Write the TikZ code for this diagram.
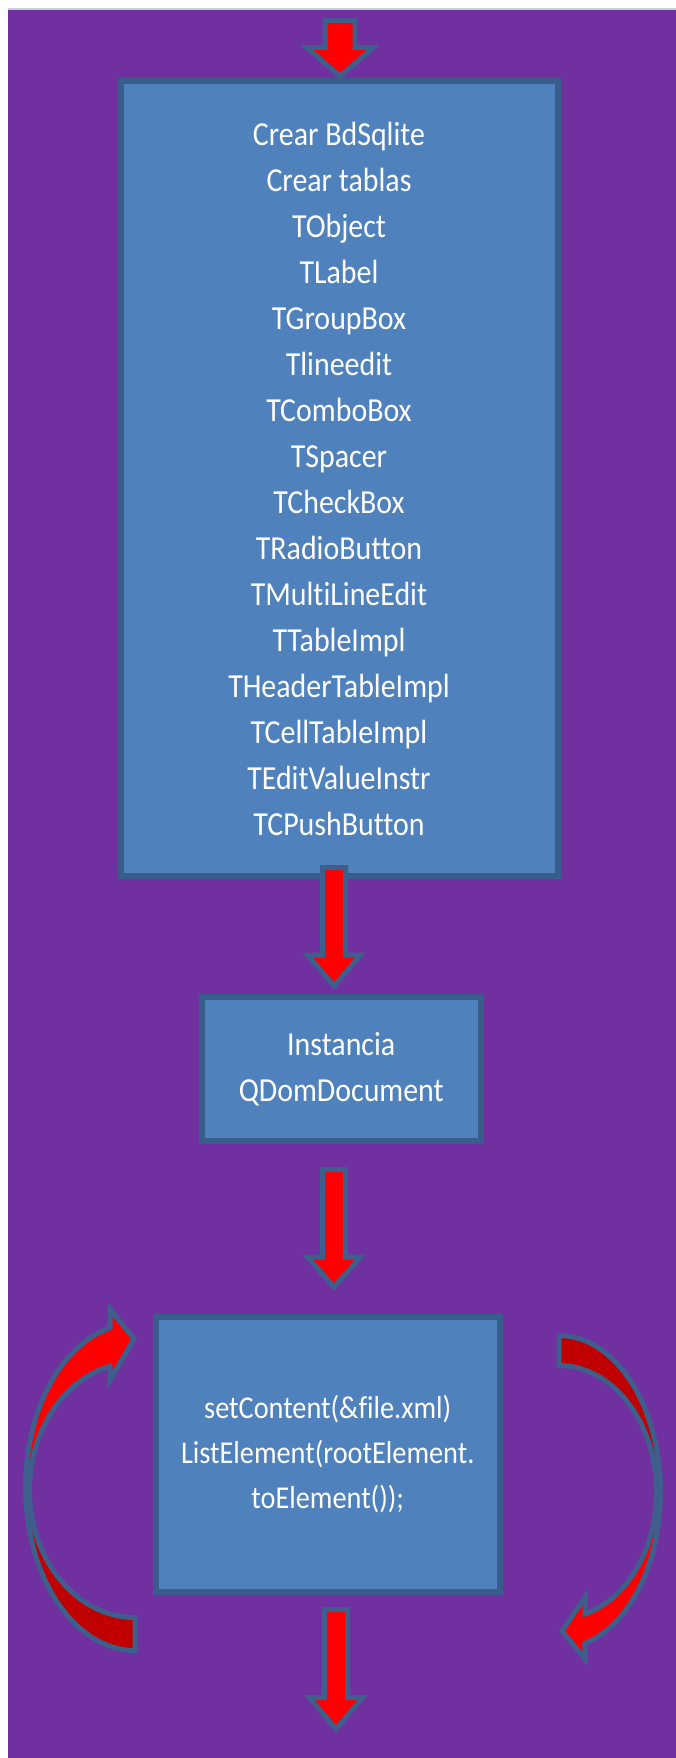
\documentclass[tikz,border=0pt]{standalone}
\usepackage{fontspec}
\newfontfamily\boxfont[FakeStretch=0.89, Ligatures=NoCommon]{Carlito}
\definecolor{bgpurple}{HTML}{7030A0}
\definecolor{boxfill}{HTML}{4F81BD}
\definecolor{boxedge}{HTML}{385D8A}
\definecolor{arrowedge}{HTML}{3E5E8C}
\definecolor{darkred}{HTML}{C00000}
\definecolor{topline}{HTML}{C8D0E0}

\tikzset{
  box/.style={draw=boxedge, line width=6pt, fill=boxfill, text=white,
    font=\boxfont\fontsize{33.6}{46}\selectfont, align=center, inner sep=0pt},
  arrowshape/.style={draw=arrowedge, line width=5pt, fill=red, line join=miter},
  curveedge/.style={draw=arrowedge, line width=5pt, line join=miter},
  % block arrow pointing down, origin at the tip:
  % #1 total length, #2 head length, #3 shaft half width, #4 head half width
  pics/blockdown/.style n args={4}{code={
    \draw[arrowshape] (0,0) -- (-#4,-#2) -- (-#3,-#2) -- (-#3,-#1)
      -- (#3,-#1) -- (#3,-#2) -- (#4,-#2) -- cycle;
  }}
}

% outlines of the two curved loop arrows
\newcommand\loopleftpath{(135,1650.5)
  -- plot[domain=90:256.8, samples=60] ({135+109.5*cos(\x)},{1487+163.5*sin(\x)})
  -- (110,1309) -- (134,1339) -- (110,1380)
  -- plot[domain=256.29:90, samples=60] ({135+105.5*cos(\x)},{1490+127.5*sin(\x)})
  -- cycle}
\newcommand\looprightpath{(559,1335.5)
  -- plot[domain=-90:75.17, samples=60] ({559+101.5*cos(\x)},{1492+156.5*sin(\x)})
  -- (585,1659) -- (562,1631) -- (585,1597)
  -- plot[domain=74.53:-90, samples=60] ({559+97.5*cos(\x)},{1492+126.5*sin(\x)})
  -- cycle}

\begin{document}
\begin{tikzpicture}[x=1pt,y=-1pt]
  \useasboundingbox (0,0) rectangle (676,1758);
  \fill[white] (0,0) rectangle (676,1758);
  \fill[bgpurple] (8,10) rectangle (676,1758);
  \draw[topline, line width=2pt] (8,9) -- (676,9);

  % process boxes
  \node[box, minimum width=437pt, minimum height=795pt] (setup) at (339,478.5)
    {Crear BdSqlite\\Crear tablas\\TObject\\TLabel\\TGroupBox\\Tlineedit\\TComboBox\\TSpacer\\TCheckBox\\TRadioButton\\TMultiLineEdit\\TTableImpl\\THeaderTableImpl\\TCellTableImpl\\TEditValueInstr\\TCPushButton};
  \node[box, minimum width=279.5pt, minimum height=143.5pt] (instance) at (341.25,1068.75)
    {Instancia\\QDomDocument};
  \node[box, minimum width=344.5pt, minimum height=275pt,
        font=\boxfont\fontsize{31.8}{45}\selectfont] (parse) at (327.75,1454)
    {setContent(\&file.xml)\\ListElement(rootElement.\\toElement());};

  % straight block arrows
  \pic at (340,76) {blockdown={55.5}{28.5}{15}{33.5}};
  \pic at (334,986) {blockdown={118.5}{31}{11.5}{26.5}};
  \pic at (334,1287) {blockdown={117.5}{30}{11.5}{26.5}};
  \pic at (336,1729) {blockdown={119.5}{31.5}{11.5}{26.5}};

  % curved loop arrows: head half bright red, tail half dark red
  \fill[darkred] \loopleftpath;
  \begin{scope}
    \clip (0,0) rectangle (676,1490);
    \fill[red] \loopleftpath;
  \end{scope}
  \path[curveedge] \loopleftpath;

  \fill[red] \looprightpath;
  \begin{scope}
    \clip (0,0) rectangle (676,1492);
    \fill[darkred] \looprightpath;
  \end{scope}
  \path[curveedge] \looprightpath;
\end{tikzpicture}
\end{document}
